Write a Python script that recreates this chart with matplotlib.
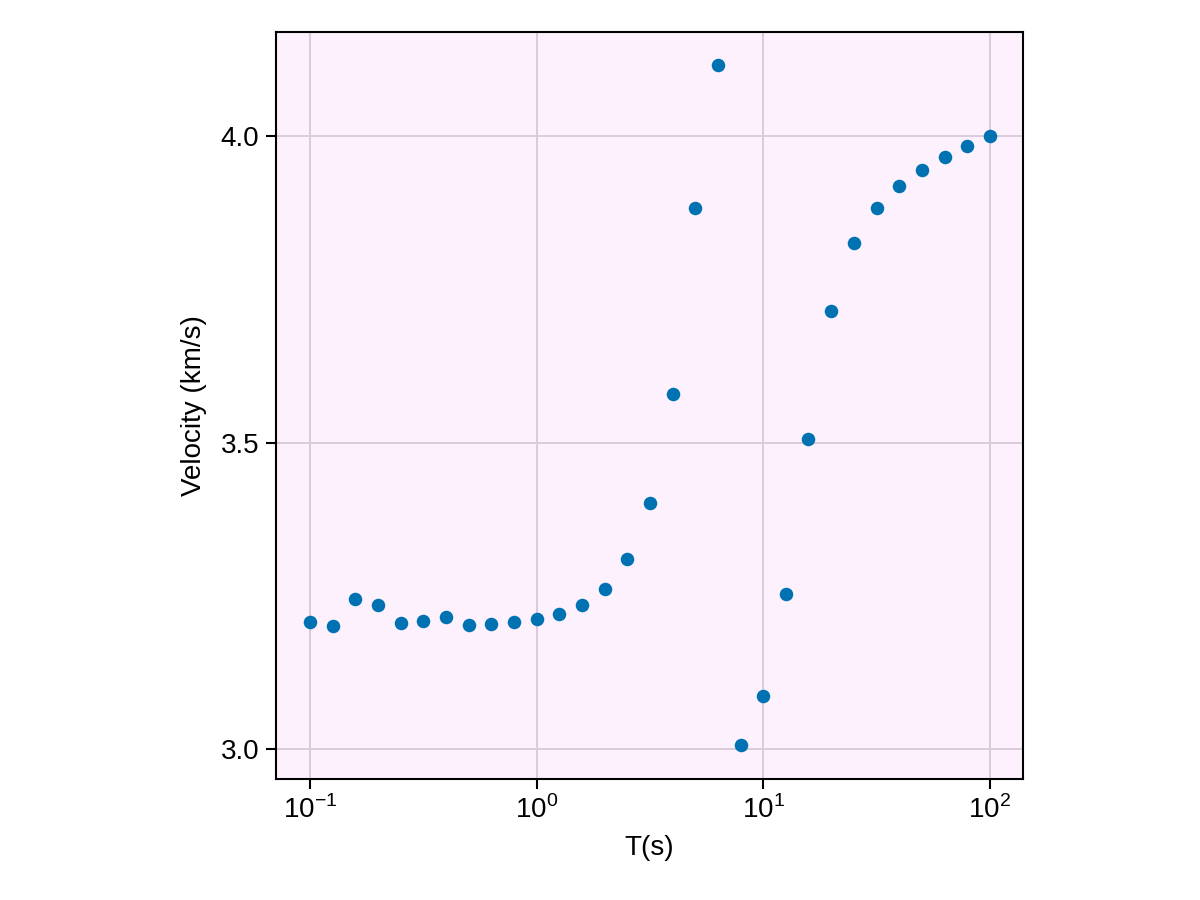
import numpy as np
import matplotlib.pyplot as plt

plt.rcParams['font.family'] = ['Liberation Sans', 'DejaVu Sans']
plt.rcParams['mathtext.fontset'] = 'custom'
plt.rcParams['mathtext.rm'] = 'Liberation Sans'

# periods (s) and velocities (km/s)
T = [0.1, 0.126, 0.158, 0.2, 0.251, 0.316, 0.398, 0.501, 0.631, 0.794,
     1.0, 1.26, 1.58, 2.0, 2.51, 3.16, 3.98, 5.01, 6.31, 7.94,
     10.0, 12.6, 15.8, 20.0, 25.1, 31.6, 39.8, 50.1, 63.1, 79.4, 100.0]
vel = [3.207, 3.201, 3.245, 3.235, 3.206, 3.209, 3.215, 3.202, 3.204, 3.207,
       3.212, 3.220, 3.235, 3.261, 3.310, 3.401, 3.579, 3.883, 4.116, 3.007,
       3.086, 3.253, 3.506, 3.715, 3.825, 3.883, 3.918, 3.945, 3.966, 3.984, 4.000]
yticks = [3.0, 3.5, 4.0]
ytick_labels = ['3.0', '3.5', '4.0']

fig = plt.figure(figsize=(12, 9), dpi=100)
ax = fig.add_axes([0.23, 0.1344, 0.6225, 0.83])
ax.set_facecolor('#fef1fe')
ax.scatter(T, vel, s=95, color='#0072b2', linewidths=0, zorder=3)

ax.set_xscale('log')
ax.set_xlim(10**-1.15, 10**2.146)
ax.set_ylim(2.951, 4.170)
ax.set_xticks([0.1, 1, 10, 100])
ax.set_xticklabels([r'$10^{-1}$', r'$10^{0}$', r'$10^{1}$', r'$10^{2}$'])
ax.minorticks_off()
ax.set_yticks(yticks)
ax.set_yticklabels(ytick_labels)
ax.grid(True, color='#dacbda', linewidth=1.4, zorder=0)
ax.tick_params(direction='out', length=7, width=1.5, labelsize=20, pad=5)
for sp in ax.spines.values():
    sp.set_linewidth(1.5)

ax.set_xlabel('T(s)', fontsize=20, labelpad=8)
ax.set_ylabel('Velocity (km/s)', fontsize=20, labelpad=10)

fig.savefig('out.png', dpi=100)
